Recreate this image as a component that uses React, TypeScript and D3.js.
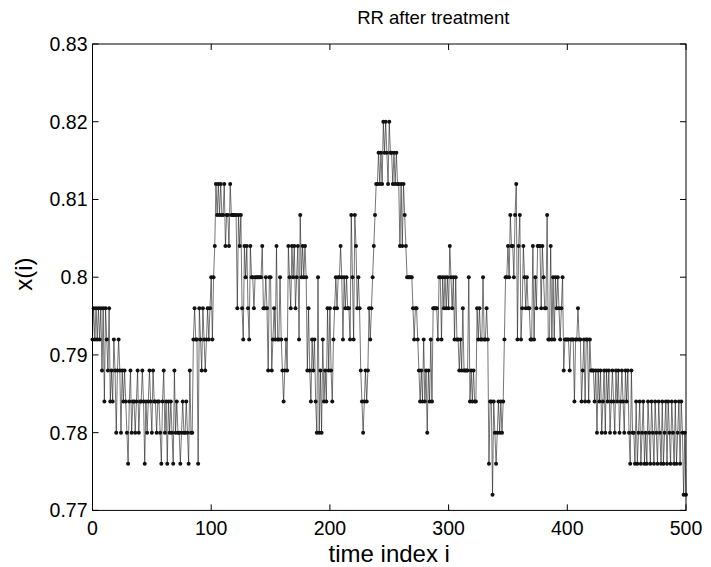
import React from "react";
import * as d3 from "d3";

const title = "RR after treatment";
const xLabel = "time index i";
const yLabel = "x(i)";

const xTicks = [0, 100, 200, 300, 400, 500];
const xTickLabels = ["0", "100", "200", "300", "400", "500"];
const yTicks = [0.77, 0.78, 0.79, 0.8, 0.81, 0.82, 0.83];
const yTickLabels = ["0.77", "0.78", "0.79", "0.8", "0.81", "0.82", "0.83"];

const rr0to99 = [
  0.792, 0.796, 0.792, 0.796, 0.792, 0.796, 0.792, 0.796, 0.788, 0.796,
  0.784, 0.796, 0.792, 0.788, 0.796, 0.784, 0.788, 0.784, 0.792, 0.788,
  0.780, 0.788, 0.792, 0.788, 0.780, 0.788, 0.784, 0.788, 0.784, 0.780,
  0.776, 0.784, 0.788, 0.780, 0.784, 0.784, 0.780, 0.784, 0.788, 0.780,
  0.784, 0.784, 0.788, 0.784, 0.776, 0.784, 0.780, 0.784, 0.788, 0.784,
  0.780, 0.788, 0.784, 0.784, 0.780, 0.784, 0.784, 0.780, 0.776, 0.784,
  0.788, 0.780, 0.784, 0.776, 0.784, 0.780, 0.784, 0.780, 0.776, 0.788,
  0.780, 0.784, 0.780, 0.780, 0.776, 0.780, 0.784, 0.780, 0.780, 0.784,
  0.780, 0.776, 0.788, 0.780, 0.780, 0.792, 0.796, 0.792, 0.792, 0.776,
  0.796, 0.792, 0.788, 0.796, 0.792, 0.788, 0.792, 0.796, 0.792, 0.796,
];
const rr100to199 = [
  0.800, 0.792, 0.800, 0.804, 0.812, 0.808, 0.812, 0.808, 0.812, 0.808,
  0.808, 0.812, 0.804, 0.808, 0.808, 0.804, 0.812, 0.808, 0.808, 0.808,
  0.808, 0.808, 0.796, 0.808, 0.804, 0.808, 0.796, 0.792, 0.804, 0.800,
  0.804, 0.796, 0.792, 0.804, 0.800, 0.800, 0.796, 0.800, 0.800, 0.800,
  0.800, 0.800, 0.800, 0.804, 0.796, 0.796, 0.800, 0.796, 0.788, 0.800,
  0.800, 0.788, 0.792, 0.796, 0.792, 0.804, 0.792, 0.792, 0.800, 0.792,
  0.788, 0.784, 0.788, 0.792, 0.788, 0.804, 0.800, 0.796, 0.804, 0.800,
  0.804, 0.796, 0.800, 0.804, 0.792, 0.808, 0.800, 0.804, 0.800, 0.804,
  0.800, 0.788, 0.796, 0.788, 0.784, 0.792, 0.788, 0.792, 0.784, 0.780,
  0.800, 0.780, 0.788, 0.780, 0.792, 0.784, 0.788, 0.784, 0.796, 0.788,
];
const rr200to299 = [
  0.796, 0.788, 0.784, 0.792, 0.796, 0.800, 0.796, 0.800, 0.800, 0.804,
  0.800, 0.792, 0.800, 0.796, 0.800, 0.796, 0.796, 0.792, 0.808, 0.800,
  0.792, 0.808, 0.804, 0.796, 0.800, 0.796, 0.788, 0.784, 0.780, 0.784,
  0.788, 0.784, 0.788, 0.796, 0.792, 0.796, 0.800, 0.804, 0.808, 0.812,
  0.812, 0.816, 0.812, 0.816, 0.812, 0.820, 0.816, 0.820, 0.816, 0.812,
  0.820, 0.816, 0.816, 0.812, 0.816, 0.812, 0.816, 0.812, 0.812, 0.804,
  0.812, 0.804, 0.812, 0.808, 0.804, 0.800, 0.800, 0.800, 0.800, 0.800,
  0.796, 0.792, 0.796, 0.796, 0.792, 0.788, 0.784, 0.788, 0.784, 0.792,
  0.784, 0.788, 0.780, 0.788, 0.784, 0.792, 0.784, 0.796, 0.796, 0.796,
  0.796, 0.792, 0.800, 0.800, 0.792, 0.800, 0.796, 0.800, 0.796, 0.800,
];
const rr300to399 = [
  0.796, 0.804, 0.800, 0.796, 0.800, 0.792, 0.800, 0.792, 0.792, 0.788,
  0.792, 0.788, 0.796, 0.788, 0.788, 0.788, 0.788, 0.800, 0.784, 0.788,
  0.784, 0.788, 0.784, 0.784, 0.796, 0.792, 0.796, 0.792, 0.792, 0.800,
  0.792, 0.792, 0.796, 0.792, 0.776, 0.784, 0.784, 0.772, 0.784, 0.780,
  0.776, 0.780, 0.784, 0.780, 0.784, 0.780, 0.784, 0.792, 0.800, 0.800,
  0.804, 0.800, 0.808, 0.804, 0.804, 0.800, 0.808, 0.812, 0.792, 0.804,
  0.808, 0.792, 0.796, 0.804, 0.800, 0.796, 0.800, 0.796, 0.796, 0.792,
  0.792, 0.804, 0.792, 0.800, 0.796, 0.804, 0.804, 0.804, 0.796, 0.804,
  0.800, 0.796, 0.796, 0.808, 0.792, 0.792, 0.804, 0.792, 0.800, 0.792,
  0.800, 0.796, 0.800, 0.796, 0.792, 0.796, 0.800, 0.788, 0.792, 0.792,
];
const rr400to500 = [
  0.792, 0.792, 0.788, 0.792, 0.792, 0.792, 0.784, 0.792, 0.792, 0.796,
  0.792, 0.792, 0.784, 0.788, 0.792, 0.784, 0.792, 0.792, 0.784, 0.792,
  0.788, 0.788, 0.788, 0.784, 0.788, 0.780, 0.788, 0.784, 0.788, 0.780,
  0.784, 0.788, 0.780, 0.788, 0.784, 0.788, 0.780, 0.784, 0.788, 0.784,
  0.780, 0.788, 0.784, 0.788, 0.780, 0.784, 0.788, 0.784, 0.780, 0.788,
  0.784, 0.788, 0.780, 0.776, 0.788, 0.780, 0.780, 0.776, 0.784, 0.776,
  0.780, 0.784, 0.776, 0.780, 0.784, 0.776, 0.780, 0.776, 0.784, 0.780,
  0.776, 0.784, 0.780, 0.776, 0.784, 0.780, 0.776, 0.784, 0.780, 0.776,
  0.784, 0.776, 0.780, 0.784, 0.776, 0.784, 0.780, 0.776, 0.784, 0.780,
  0.776, 0.784, 0.776, 0.780, 0.784, 0.776, 0.784, 0.780, 0.772, 0.780,
  0.772,
];

const rrValues = [...rr0to99, ...rr100to199, ...rr200to299, ...rr300to399, ...rr400to500];

const W = 711;
const H = 567;
const FONT = "'Liberation Sans', Arial, Helvetica, sans-serif";

export default function App() {
  const x = d3.scaleLinear().domain([0, 500]).range([92.5, 686]);
  const y = d3.scaleLinear().domain([0.77, 0.83]).range([510.4, 44]);
  const [x0, x1] = x.range();
  const [y0, y1] = y.range();
  const pts = rrValues.map((v, i) => [i, v] as [number, number]);
  const line = d3
    .line<[number, number]>()
    .x((d) => x(d[0]))
    .y((d) => y(d[1]));
  const tl = 6;
  const fs = 19.5;
  const lfs = 24;
  return (
    <svg
      width={W}
      height={H}
      style={{ position: "absolute", left: 0, top: 0, background: "#fff" }}
      fontFamily={FONT}
    >
      <rect x={0} y={0} width={W} height={H} fill="#fff" />
      <path d={line(pts) || ""} fill="none" stroke="#1a1a1a" strokeWidth={0.6} />
      {pts.map((d, i) => (
        <circle key={i} cx={x(d[0])} cy={y(d[1])} r={2} fill="#111" />
      ))}
      <rect x={x0} y={y1} width={x1 - x0} height={y0 - y1} fill="none" stroke="#000" strokeWidth={1} />
      {xTicks.map((t, i) => (
        <g key={"xt" + i}>
          <line x1={x(t)} x2={x(t)} y1={y0} y2={y0 - tl} stroke="#000" />
          <line x1={x(t)} x2={x(t)} y1={y1} y2={y1 + tl} stroke="#000" />
          <text x={x(t)} y={y0 + 24.5} textAnchor="middle" fontSize={fs} fill="#000">
            {xTickLabels[i]}
          </text>
        </g>
      ))}
      {yTicks.map((t, i) => (
        <g key={"yt" + i}>
          <line x1={x0} x2={x0 + tl} y1={y(t)} y2={y(t)} stroke="#000" />
          <line x1={x1} x2={x1 - tl} y1={y(t)} y2={y(t)} stroke="#000" />
          <text x={x0 - 5} y={y(t) + 7} textAnchor="end" fontSize={fs} fill="#000">
            {yTickLabels[i]}
          </text>
        </g>
      ))}
      <text x={(x0 + x1) / 2 + 44} y={24} textAnchor="middle" fontSize={18.5} fill="#000">
        {title}
      </text>
      <text x={(x0 + x1) / 2} y={562} textAnchor="middle" fontSize={lfs} fill="#000">
        {xLabel}
      </text>
      <text
        transform={`translate(32, ${(y0 + y1) / 2 - 3}) rotate(-90)`}
        textAnchor="middle"
        fontSize={lfs}
        fill="#000"
      >
        {yLabel}
      </text>
    </svg>
  );
}
